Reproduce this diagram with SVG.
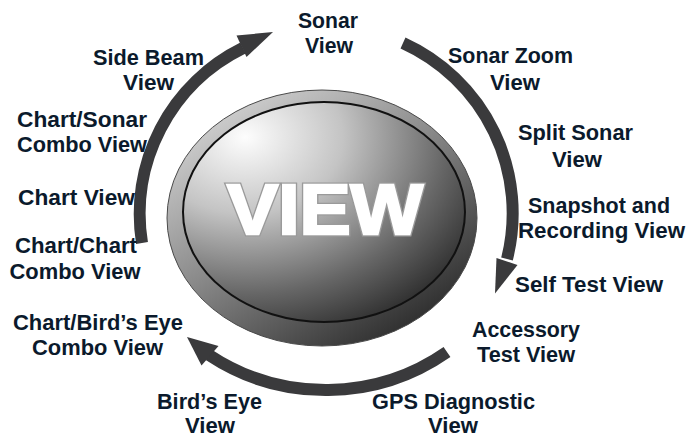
<svg xmlns="http://www.w3.org/2000/svg" width="688" height="437" viewBox="0 0 688 437">
<defs>
<linearGradient id="ring" x1="0.15" y1="0.05" x2="0.85" y2="0.95">
<stop offset="0" stop-color="#d4d4d4"/>
<stop offset="0.45" stop-color="#8a8a8a"/>
<stop offset="1" stop-color="#262626"/>
</linearGradient>
<radialGradient id="face" cx="0.22" cy="0.16" r="1.05" fx="0.22" fy="0.16">
<stop offset="0" stop-color="#fdfdfd"/>
<stop offset="0.33" stop-color="#c4c4c4"/>
<stop offset="0.68" stop-color="#666666"/>
<stop offset="1" stop-color="#181818"/>
</radialGradient>
</defs>
<style>
.lbl{font-family:"Liberation Sans",Arial,sans-serif;font-weight:bold;font-size:22px;fill:#0b1a2c;text-anchor:middle}
.arc{fill:none;stroke:#3a3a3c;stroke-width:12;stroke-linecap:butt}
.head{fill:#3a3a3c}
.big{font-family:"Liberation Sans",Arial,sans-serif;font-weight:bold;font-size:70px;text-anchor:middle;stroke-linejoin:miter}
.big-edge{fill:#9a9a9a;stroke:#9a9a9a;stroke-width:5}
.big-fill{fill:#ffffff;stroke:#ffffff;stroke-width:2.5}
</style>
<rect width="688" height="437" fill="#ffffff"/>
<g id="connectors">
<path class="arc" d="M142,243 A185,185 0 0 1 243,48"/>
<polygon class="head" points="273,32 236.5,35.5 246.5,57"/>
<path class="arc" d="M403,43 A187,187 0 0 1 507,259"/>
<polygon class="head" points="495,293.5 496.5,258 517.5,265"/>
<path class="arc" d="M447,352 A212,212 0 0 1 209,355"/>
<polygon class="head" points="187,337 201.5,365.5 218.5,346"/>
</g>
<g id="view-button">
<ellipse cx="322" cy="218" rx="155" ry="128" fill="url(#ring)" stroke="#4a4a4a" stroke-width="1"/>
<ellipse cx="324" cy="212" rx="141" ry="110" fill="url(#face)" stroke="#111111" stroke-width="2"/>
<text class="big big-edge" x="325" y="234" textLength="196" lengthAdjust="spacingAndGlyphs">VIEW</text>
<text class="big big-fill" x="325" y="234" textLength="196" lengthAdjust="spacingAndGlyphs">VIEW</text>
</g>
<g id="sonar-view"><text class="lbl" x="328" y="28" textLength="60" lengthAdjust="spacingAndGlyphs">Sonar</text><text class="lbl" x="329" y="53" textLength="48" lengthAdjust="spacingAndGlyphs">View</text></g>
<g id="side-beam-view"><text class="lbl" x="148.5" y="65" textLength="111" lengthAdjust="spacingAndGlyphs">Side Beam</text><text class="lbl" x="148.5" y="90" textLength="51" lengthAdjust="spacingAndGlyphs">View</text></g>
<g id="chart-sonar-combo-view"><text class="lbl" x="82" y="127" textLength="130" lengthAdjust="spacingAndGlyphs">Chart/Sonar</text><text class="lbl" x="82" y="152" textLength="130" lengthAdjust="spacingAndGlyphs">Combo View</text></g>
<g id="chart-view"><text class="lbl" x="76.5" y="205" textLength="117" lengthAdjust="spacingAndGlyphs">Chart View</text></g>
<g id="chart-chart-combo-view"><text class="lbl" x="76" y="253" textLength="122" lengthAdjust="spacingAndGlyphs">Chart/Chart</text><text class="lbl" x="75" y="279" textLength="131" lengthAdjust="spacingAndGlyphs">Combo View</text></g>
<g id="chart-birds-eye-combo-view"><text class="lbl" x="98" y="330" textLength="170" lengthAdjust="spacingAndGlyphs">Chart/Bird’s Eye</text><text class="lbl" x="97.5" y="355" textLength="131" lengthAdjust="spacingAndGlyphs">Combo View</text></g>
<g id="birds-eye-view"><text class="lbl" x="209.5" y="409" textLength="105" lengthAdjust="spacingAndGlyphs">Bird’s Eye</text><text class="lbl" x="210" y="433" textLength="50" lengthAdjust="spacingAndGlyphs">View</text></g>
<g id="sonar-zoom-view"><text class="lbl" x="510.5" y="63" textLength="125" lengthAdjust="spacingAndGlyphs">Sonar Zoom</text><text class="lbl" x="515" y="90" textLength="50" lengthAdjust="spacingAndGlyphs">View</text></g>
<g id="split-sonar-view"><text class="lbl" x="575.5" y="140" textLength="115" lengthAdjust="spacingAndGlyphs">Split Sonar</text><text class="lbl" x="577" y="167" textLength="50" lengthAdjust="spacingAndGlyphs">View</text></g>
<g id="snapshot-recording-view"><text class="lbl" x="599" y="213" textLength="142" lengthAdjust="spacingAndGlyphs">Snapshot and</text><text class="lbl" x="601.5" y="238" textLength="167" lengthAdjust="spacingAndGlyphs">Recording View</text></g>
<g id="self-test-view"><text class="lbl" x="589" y="292" textLength="148" lengthAdjust="spacingAndGlyphs">Self Test View</text></g>
<g id="accessory-test-view"><text class="lbl" x="526" y="337" textLength="108" lengthAdjust="spacingAndGlyphs">Accessory</text><text class="lbl" x="526" y="362" textLength="98" lengthAdjust="spacingAndGlyphs">Test View</text></g>
<g id="gps-diagnostic-view"><text class="lbl" x="453.5" y="409" textLength="163" lengthAdjust="spacingAndGlyphs">GPS Diagnostic</text><text class="lbl" x="453" y="433" textLength="50" lengthAdjust="spacingAndGlyphs">View</text></g>
</svg>
